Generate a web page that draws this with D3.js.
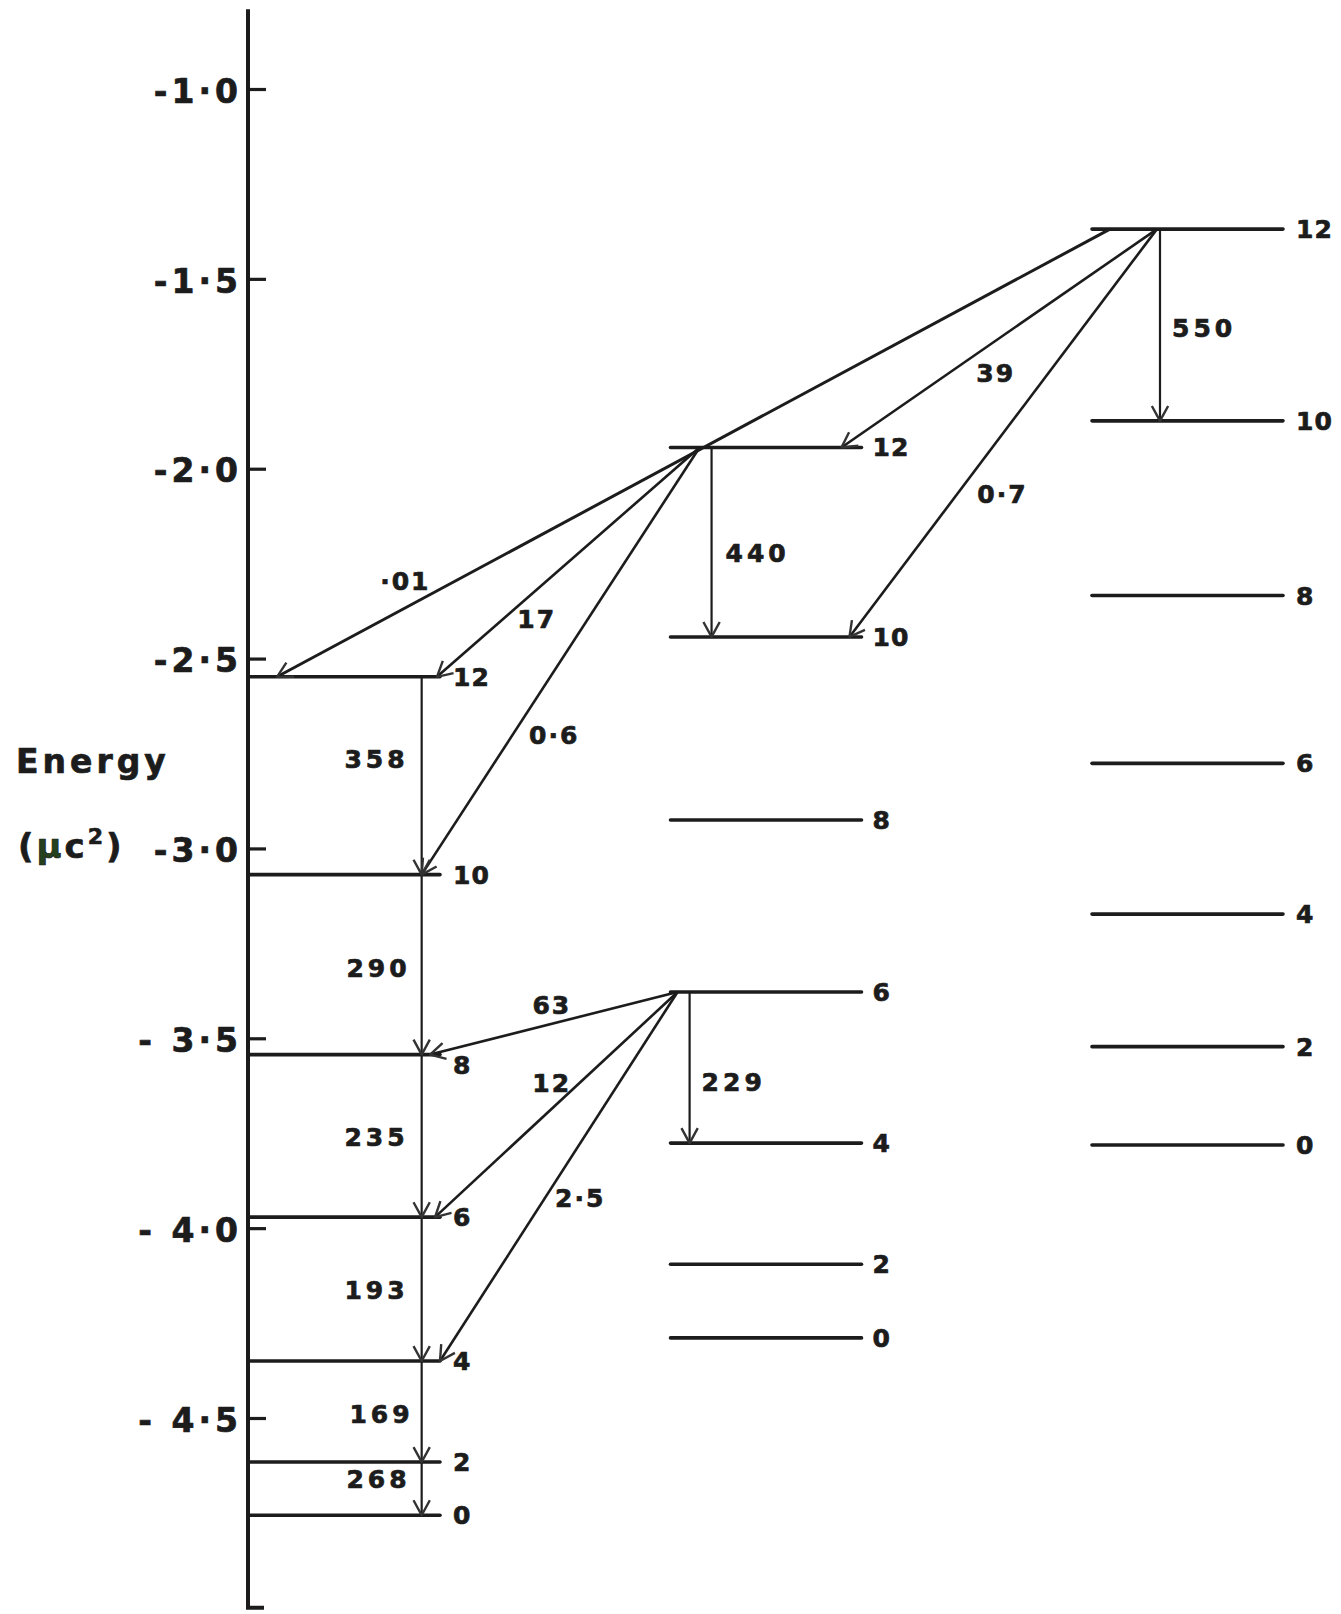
<!DOCTYPE html>
<html>
<head>
<meta charset="utf-8">
<script src="https://cdn.jsdelivr.net/npm/d3@7"></script>
<style>
  html, body { margin: 0; padding: 0; background: #ffffff; }
  svg { display: block; }
  text { font-family: "DejaVu Sans", "Liberation Sans", sans-serif; font-weight: bold; }
</style>
</head>
<body>
<svg id="chart" width="1341" height="1614"></svg>
<script>
// Three rotational bands; spins of each level and their energies (μc²)
const bands = ["A", "B", "C"];
const spins = [12, 10, 8, 6, 4, 2, 0];
const energyA = [-2.548, -3.069, -3.543, -3.971, -4.350, -4.616, -4.756];
const energyB = [-1.944, -2.443, -2.925, -3.378, -3.776, -4.095, -4.289];
const energyC = [-1.369, -1.874, -2.334, -2.776, -3.173, -3.522, -3.781];

// Transitions: [from band, from spin, to band, to spin, relative intensity]
const transitions = [
  ["A", 12, "A", 10, "358"],
  ["A", 10, "A", 8, "290"],
  ["A", 8, "A", 6, "235"],
  ["A", 6, "A", 4, "193"],
  ["A", 4, "A", 2, "169"],
  ["A", 2, "A", 0, "268"],
  ["B", 12, "B", 10, "440"],
  ["B", 6, "B", 4, "229"],
  ["C", 12, "C", 10, "550"],
  ["C", 12, "B", 12, "39"],
  ["C", 12, "B", 10, "0·7"],
  ["C", 12, "A", 12, "·01"],
  ["B", 12, "A", 12, "17"],
  ["B", 12, "A", 10, "0·6"],
  ["B", 6, "A", 8, "63"],
  ["B", 6, "A", 6, "12"],
  ["B", 6, "A", 4, "2·5"]
];

// Energy axis ticks
const tickValues = [-1.0, -1.5, -2.0, -2.5, -3.0, -3.5, -4.0, -4.5];
const tickLabels = ["-1·0", "-1·5", "-2·0", "-2·5", "-3·0", "- 3·5", "- 4·0", "- 4·5"];
const axisExtent = [-0.79, -5.0];

// ---- layout ----
// where each arrow leaves / reaches its level (fraction of the level width),
// and where its intensity label sits (fraction t along the arrow, then offset)
const arrowLayout = [
  { f: 0.904, to: 0.904, t: 0.5, dx: -13, dy: -17, anchor: "end" },
  { f: 0.904, to: 0.904, t: 0.5, dx: -11, dy: 3, anchor: "end" },
  { f: 0.904, to: 0.904, t: 0.5, dx: -13, dy: 1, anchor: "end" },
  { f: 0.904, to: 0.904, t: 0.5, dx: -13, dy: 1, anchor: "end" },
  { f: 0.904, to: 0.904, t: 0.5, dx: -8, dy: 2, anchor: "end" },
  { f: 0.904, to: 0.904, t: 0.5, dx: -11, dy: -10, anchor: "end" },
  { f: 0.215, to: 0.215, t: 0.5, dx: 14, dy: 11, anchor: "start" },
  { f: 0.100, to: 0.100, t: 0.5, dx: 12, dy: 14, anchor: "start" },
  { f: 0.356, to: 0.356, t: 0.5, dx: 12, dy: 3, anchor: "start" },
  { f: 0.340, to: 0.895, t: 0.511, dx: 0, dy: 32, anchor: "middle" },
  { f: 0.340, to: 0.937, t: 0.649, dx: 45, dy: 0, anchor: "middle" },
  { f: 0.094, to: 0.147, t: 0.846, dx: 0, dy: -27, anchor: "middle", w: 3 },
  { f: 0.152, to: 0.984, t: 0.62, dx: 0, dy: 29, anchor: "middle" },
  { f: 0.152, to: 0.904, t: 0.674, dx: 42, dy: 0, anchor: "middle" },
  { f: 0.037, to: 0.948, t: 0.508, dx: 0, dy: -19, anchor: "middle" },
  { f: 0.037, to: 0.974, t: 0.519, dx: 0, dy: -26, anchor: "middle" },
  { f: 0.037, to: 1.000, t: 0.557, dx: 35, dy: 0, anchor: "middle" }
];
const levelLabelGap = { A: 13, B: 11, C: 13 };
const levelLabelNudge = { "A8": 10 };
const ink = "#1c1c1c";

const svg = d3.select("#chart");

const y = d3.scaleLinear().domain([-1, -4.5]).range([89, 1418]);
const x = d3.scaleBand().domain(bands).range([249, 1283])
  .paddingInner(1 - 191 / 421.5).paddingOuter(0);
const bw = x.bandwidth();

const bandEnergy = { A: energyA, B: energyB, C: energyC };
const levelY = (b, j) => y(bandEnergy[b][spins.indexOf(j)]);

// heavier strokes on the lettering
const inked = sel => sel.attr("fill", ink).attr("stroke", ink)
  .attr("stroke-width", 0.7).attr("stroke-linejoin", "round");

// ---- energy axis ----
const axisX = 248;
svg.append("path")
  .attr("d", `M${axisX},${y(axisExtent[0])}V${y(axisExtent[1])}h16`)
  .attr("fill", "none").attr("stroke", ink).attr("stroke-width", 4);

const axisG = svg.append("g")
  .attr("transform", `translate(${axisX},0)`)
  .style("color", ink)
  .call(d3.axisLeft(y)
    .tickValues(tickValues)
    .tickFormat((d, i) => tickLabels[i])
    .tickSizeInner(-18)
    .tickSizeOuter(0)
    .tickPadding(6));
axisG.select(".domain").remove();
axisG.selectAll(".tick line").attr("stroke-width", 3.2);
axisG.selectAll(".tick text")
  .attr("font-size", 33)
  .attr("font-family", "DejaVu Sans, sans-serif")
  .attr("font-weight", "bold")
  .attr("letter-spacing", 4)
  .attr("dy", "0.40em")
  .call(inked);

// axis title
svg.append("text")
  .attr("x", 16).attr("y", 773)
  .attr("font-size", 33).attr("letter-spacing", 4)
  .call(inked)
  .text("Energy");
const unit = svg.append("text")
  .attr("x", 18).attr("y", 858)
  .attr("font-size", 34).attr("letter-spacing", 3)
  .call(inked);
unit.append("tspan").text("(");
unit.append("tspan").attr("fill", "#24401f").text("μ");
unit.append("tspan").text("c");
unit.append("tspan").attr("dy", -14).attr("font-size", 22).text("2");
unit.append("tspan").attr("dy", 14).text(")");

// ---- levels ----
bands.forEach(b => {
  const g = svg.append("g");
  g.selectAll("line")
    .data(spins)
    .join("line")
    .attr("x1", x(b)).attr("x2", x(b) + bw)
    .attr("y1", j => levelY(b, j)).attr("y2", j => levelY(b, j))
    .attr("stroke", ink).attr("stroke-width", 3.6)
    .attr("stroke-linecap", "round");
  g.selectAll("text")
    .data(spins)
    .join("text")
    .attr("x", x(b) + bw + levelLabelGap[b])
    .attr("y", j => levelY(b, j) + (levelLabelNudge[b + j] || 0))
    .attr("dy", "0.36em")
    .attr("font-size", 25).attr("letter-spacing", 1)
    .call(inked)
    .text(j => j);
});

// ---- transitions ----
function headPath(x1, y1, x2, y2) {
  const a = Math.atan2(y2 - y1, x2 - x1), L = 17, h = 0.5;
  return `M${x2 - L * Math.cos(a - h)},${y2 - L * Math.sin(a - h)}` +
         `L${x2},${y2}` +
         `L${x2 - L * Math.cos(a + h)},${y2 - L * Math.sin(a + h)}`;
}

const arrows = transitions.map((t, i) => {
  const lay = arrowLayout[i];
  const x1 = x(t[0]) + lay.f * bw, y1 = levelY(t[0], t[1]);
  const x2 = x(t[2]) + lay.to * bw, y2 = levelY(t[2], t[3]);
  return { x1, y1, x2, y2, label: t[4], lay };
});

const ag = svg.append("g");
ag.selectAll("path.shaft")
  .data(arrows)
  .join("path")
  .attr("class", "shaft")
  .attr("d", d => `M${d.x1},${d.y1}L${d.x2},${d.y2}`)
  .attr("fill", "none").attr("stroke", ink)
  .attr("stroke-width", d => d.lay.w || (d.x1 === d.x2 ? 2.2 : 2.6));
ag.selectAll("path.head")
  .data(arrows)
  .join("path")
  .attr("class", "head")
  .attr("d", d => headPath(d.x1, d.y1, d.x2, d.y2))
  .attr("fill", "none").attr("stroke", "#333")
  .attr("stroke-width", 2.4).attr("stroke-linejoin", "round");
ag.selectAll("text")
  .data(arrows)
  .join("text")
  .attr("x", d => d.x1 + (d.x2 - d.x1) * d.lay.t + d.lay.dx)
  .attr("y", d => d.y1 + (d.y2 - d.y1) * d.lay.t + d.lay.dy)
  .attr("dy", "0.36em")
  .attr("text-anchor", d => d.lay.anchor)
  .attr("font-size", 25)
  .attr("letter-spacing", d => d.lay.anchor === "middle" ? 2 : 4)
  .call(inked)
  .text(d => d.label);
</script>
</body>
</html>
